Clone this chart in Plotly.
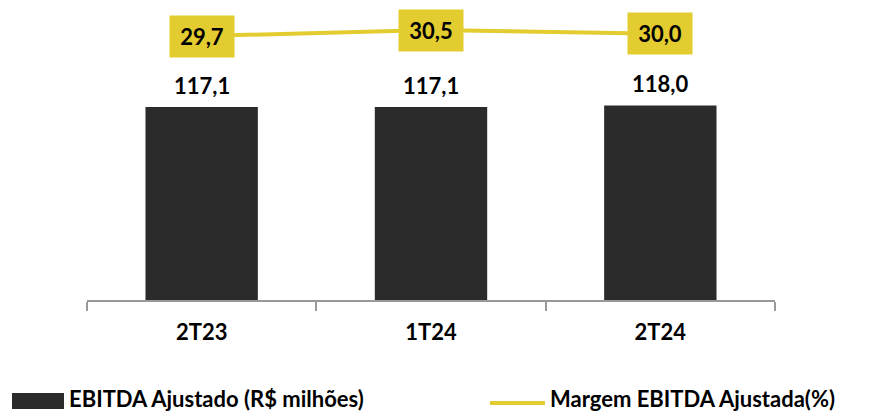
import plotly.graph_objects as go

categories = ["2T23", "1T24", "2T24"]
ebitda = [117.1, 117.1, 118.0]
margem = [29.7, 30.5, 30.0]
ebitda_labels = ["117,1", "117,1", "118,0"]
margem_labels = ["29,7", "30,5", "30,0"]

BAR_COLOR = "#2b2b2b"
LINE_COLOR = "#e3cc2f"
FONT = "Lato"

fig = go.Figure()

fig.add_trace(go.Bar(
    x=categories, y=ebitda, width=0.49,
    marker=dict(color=BAR_COLOR, line=dict(width=0)),
    name="EBITDA Ajustado (R$ milhões)", showlegend=False,
    hoverinfo="skip",
))

fig.add_trace(go.Scatter(
    x=categories, y=margem, yaxis="y2", mode="lines",
    line=dict(color=LINE_COLOR, width=4),
    name="Margem EBITDA Ajustada(%)", showlegend=False,
    hoverinfo="skip",
))

annotations = []
# value labels above the bars
for c, v, t in zip(categories, ebitda, ebitda_labels):
    annotations.append(dict(
        x=c, y=v, xref="x", yref="y", text=f"<b>{t}</b>",
        showarrow=False, yanchor="bottom", yshift=6,
        font=dict(family=FONT, size=22, color="#000000"),
    ))
# boxed labels on the margin line
for c, v, t in zip(categories, margem, margem_labels):
    annotations.append(dict(
        x=c, y=v, xref="x", yref="y2", text=f"<b>{t}</b>",
        showarrow=False, xanchor="center", yanchor="middle",
        width=62, height=39, bgcolor=LINE_COLOR, borderpad=1,
        font=dict(family=FONT, size=22, color="#000000"),
    ))

# legend drawn along the bottom edge
annotations.append(dict(
    x=67, y=398, xref="paper", yref="paper", text="<b>EBITDA Ajustado (R$ milhões)</b>",
    showarrow=False, xanchor="left", yanchor="middle",
    font=dict(family=FONT, size=22, color="#000000"),
))
annotations.append(dict(
    x=548, y=398, xref="paper", yref="paper", text="<b>Margem EBITDA Ajustada(%)</b>",
    showarrow=False, xanchor="left", yanchor="middle",
    font=dict(family=FONT, size=22, color="#000000"),
))

W, H = 869, 412
L, R, T, B = 87, 94, 0, 112
pw, ph = W - L - R, H - T - B

def px_to_paper(x, y):
    return (x - L) / pw, (H - B - y) / ph

for a in annotations[-2:]:
    a["x"], a["y"] = px_to_paper(a["x"], a["y"])

x0, y0 = px_to_paper(12, 393)
x1, y1 = px_to_paper(64, 409)
lx0, ly = px_to_paper(490, 403)
lx1, _ = px_to_paper(545, 403)
shapes = [
    dict(type="rect", xref="paper", yref="paper", x0=x0, x1=x1, y0=y1, y1=y0,
         fillcolor=BAR_COLOR, line=dict(width=0)),
    dict(type="line", xref="paper", yref="paper", x0=lx0, x1=lx1, y0=ly, y1=ly,
         line=dict(color=LINE_COLOR, width=4)),
]

fig.update_layout(
    width=W, height=H,
    margin=dict(l=L, r=R, t=T, b=B),
    paper_bgcolor="white", plot_bgcolor="white",
    showlegend=False,
    annotations=annotations,
    shapes=shapes,
    xaxis=dict(
        type="category", showline=True, linecolor="#999999", linewidth=2,
        ticks="outside", tickson="boundaries", ticklen=9, tickcolor="#999999", tickwidth=2,
        tickfont=dict(family=FONT, size=22, color="#000000"),
        ticklabelstandoff=12, showgrid=False, zeroline=False,
        tickprefix="<b>", ticksuffix="</b>",
    ),
    yaxis=dict(range=[0, 182], visible=False, showgrid=False, zeroline=False),
    yaxis2=dict(range=[-5.5, 34.5], overlaying="y", visible=False, showgrid=False, zeroline=False),
)

fig.write_html("out.html")
